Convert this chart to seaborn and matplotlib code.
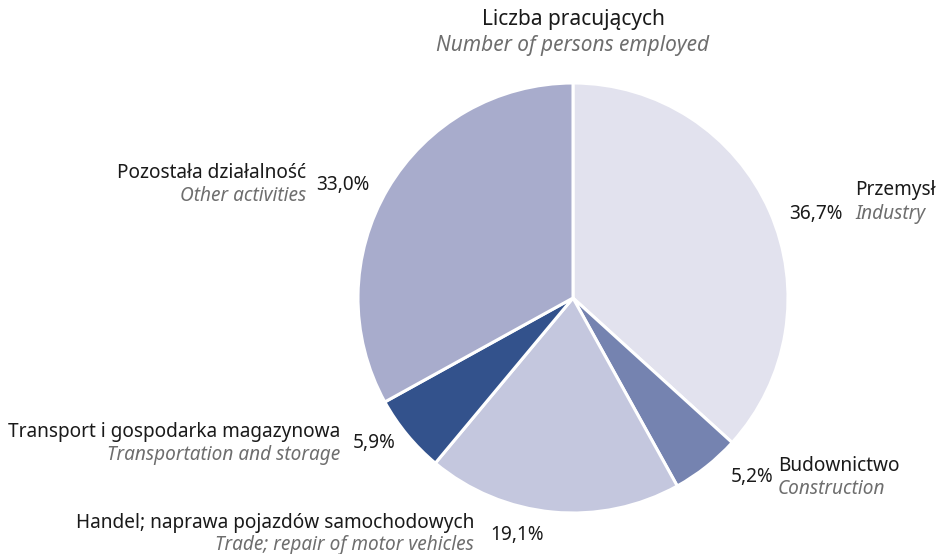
import matplotlib
matplotlib.use('Agg')
import matplotlib.pyplot as plt
import seaborn as sns

# Data
labels_pl = ['Przemysł', 'Budownictwo', 'Handel; naprawa pojazdów samochodowych',
             'Transport i gospodarka magazynowa', 'Pozostała działalność']
labels_en = ['Industry', 'Construction', 'Trade; repair of motor vehicles',
             'Transportation and storage', 'Other activities']
shares = [36.7, 5.2, 19.1, 5.9, 33.0]
colors = ['#e2e2ee', '#7583b0', '#c4c7de', '#33528c', '#a8accc']

sns.set_theme(style='white')
plt.rcParams['font.family'] = ['Noto Sans', 'DejaVu Sans']

W, H = 936, 554
fig = plt.figure(figsize=(W / 100, H / 100), dpi=100)
ax = fig.add_axes([0, 0, 1, 1])

ax.pie(shares, colors=colors, startangle=90, counterclock=False,
       center=(573, H - 298), radius=215,
       wedgeprops=dict(edgecolor='white', linewidth=2.2))
ax.set_xlim(0, W)
ax.set_ylim(0, H)
ax.set_aspect('equal')
ax.axis('off')

dark = '#1a1a1a'
grey = '#6e6e6e'
fs = 13.7

def y(p):
    return H - p

# Label layout: (name x, name align, name y, en y, pct x, pct align, pct y)
layout = [
    (855, 'left', 190, 214, 843, 'right', 214),
    (778, 'left', 466, 489, 773, 'right', 477),
    (474, 'right', 523, 545, 490, 'left', 535),
    (340, 'right', 432, 455, 353, 'left', 443),
    (306, 'right', 173, 196, 316, 'left', 185),
]

for name, en, val, (nx, na, ny, ey, px, pa, py) in zip(labels_pl, labels_en, shares, layout):
    ax.text(nx, y(ny), name, ha=na, va='center', fontsize=fs, color=dark)
    ax.text(nx, y(ey), en, ha=na, va='center', fontsize=fs, color=grey, style='italic')
    ax.text(px, y(py), f'{val:.1f}%'.replace('.', ','), ha=pa, va='center',
            fontsize=fs, color=dark)

ax.text(573, y(20), 'Liczba pracujących', ha='center', va='center', fontsize=15, color=dark)
ax.text(573, y(46), 'Number of persons employed', ha='center', va='center',
        fontsize=15, color=grey, style='italic')

fig.savefig('out.png', dpi=100)
